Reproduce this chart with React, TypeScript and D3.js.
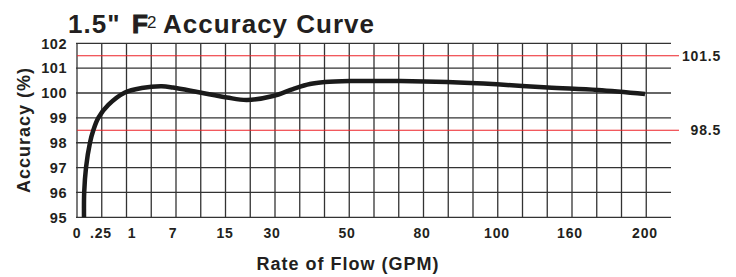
import React from "react";
import * as d3 from "d3";

// axis ticks
const flowTicks = [0, 0.25, 1, 7, 15, 30, 50, 80, 100, 160, 200];
const flowTickLabels = ["0", ".25", "1", "7", "15", "30", "50", "80", "100", "160", "200"];
const accuracyTicks = [95, 96, 97, 98, 99, 100, 101, 102];
const limitLines = [101.5, 98.5];

// accuracy curve (flow GPM, accuracy %)
const curveFlow = [
  0.073, 0.075, 0.094, 0.135, 0.17, 0.222, 0.427, 0.83, 2.42, 5.35, 7, 11.15,
  15.6, 22, 30.3, 35.6, 40.1, 44.1, 51.2, 71.2, 86.7, 100, 141.7, 174.7, 200,
];
const curveAccuracy = [
  95, 96, 97, 98, 98.5, 99, 99.52, 100.02, 100.2, 100.27, 100.22, 100.02,
  99.82, 99.72, 99.88, 100.16, 100.36, 100.44, 100.48, 100.48, 100.44, 100.35,
  100.22, 100.12, 99.96,
];

const W = 736;
const H = 277;
const left = 77;
const top = 43.3;
const bottom = 217.3;
const gridCols = 24;
const cellW = 24.75;
const gridRight = left + gridCols * cellW;
const font = "'Liberation Sans', Arial, sans-serif";
const ink = "#231f20";

export default function App() {
  // the flow axis is not linear: ticks sit at fixed places along the grid
  const tickOffsets = [0, 24, 55, 96, 148, 195, 270, 345, 420, 493, 568];
  const x = d3
    .scaleLinear()
    .domain(flowTicks)
    .range(tickOffsets.map((o) => left + o))
    .clamp(true);
  const y = d3.scaleLinear().domain([95, 102]).range([bottom, top]);

  const pts: [number, number][] = curveFlow.map((f, i) => [f, curveAccuracy[i]]);
  const path = d3
    .line<[number, number]>()
    .x((d) => x(d[0]))
    .y((d) => y(d[1]))
    .curve(d3.curveCatmullRom.alpha(0.5))(pts);

  const cols = d3.range(gridCols);

  return (
    <svg
      width={W}
      height={H}
      style={{ position: "absolute", left: 0, top: 0, background: "#fff" }}
      fontFamily={font}
      fontWeight="bold"
      fill={ink}
    >
      {/* title */}
      <text x={68} y={33} fontSize={26} letterSpacing={1}>
        1.5"
      </text>
      <text x={132} y={33} fontSize={26} stroke={ink} strokeWidth={1}>
        F
      </text>
      <text x={147} y={28} fontSize={17} fontWeight="normal">
        2
      </text>
      <text x={163} y={33} fontSize={26} letterSpacing={1}>
        Accuracy Curve
      </text>

      {/* grid */}
      <g stroke="#333" strokeWidth={1.3}>
        {cols.map((k) => (
          <line key={"v" + k} x1={left + k * cellW} x2={left + k * cellW} y1={top} y2={bottom} />
        ))}
        {accuracyTicks.map((v) => (
          <line key={"h" + v} x1={left - 1} x2={gridRight} y1={y(v)} y2={y(v)} />
        ))}
      </g>

      {/* limit lines */}
      {limitLines.map((v) => (
        <g key={"l" + v}>
          <line x1={left} x2={679} y1={y(v)} y2={y(v)} stroke="#ec2227" strokeWidth={1.1} />
          <text x={721} y={y(v)} dy="0.36em" fontSize={14} letterSpacing={0.8} textAnchor="end">
            {v.toFixed(1)}
          </text>
        </g>
      ))}

      {/* curve */}
      <path d={path || ""} fill="none" stroke="#1a1a1a" strokeWidth={4.5} strokeLinecap="butt" />

      {/* y ticks */}
      {accuracyTicks.map((v) => (
        <text key={"yt" + v} x={67} y={y(v)} dy="0.36em" fontSize={14.5} letterSpacing={0.5} textAnchor="end">
          {v}
        </text>
      ))}

      {/* x ticks */}
      {flowTicks.map((f, i) => (
        <text key={"xt" + i} x={x(f)} y={238} fontSize={14} letterSpacing={0.8} textAnchor="middle">
          {flowTickLabels[i]}
        </text>
      ))}

      {/* axis titles */}
      <text x={348} y={270} fontSize={18} letterSpacing={1} textAnchor="middle">
        Rate of Flow (GPM)
      </text>
      <text
        transform={`translate(30,130) rotate(-90)`}
        fontSize={18}
        letterSpacing={1}
        textAnchor="middle"
      >
        Accuracy (%)
      </text>
    </svg>
  );
}
